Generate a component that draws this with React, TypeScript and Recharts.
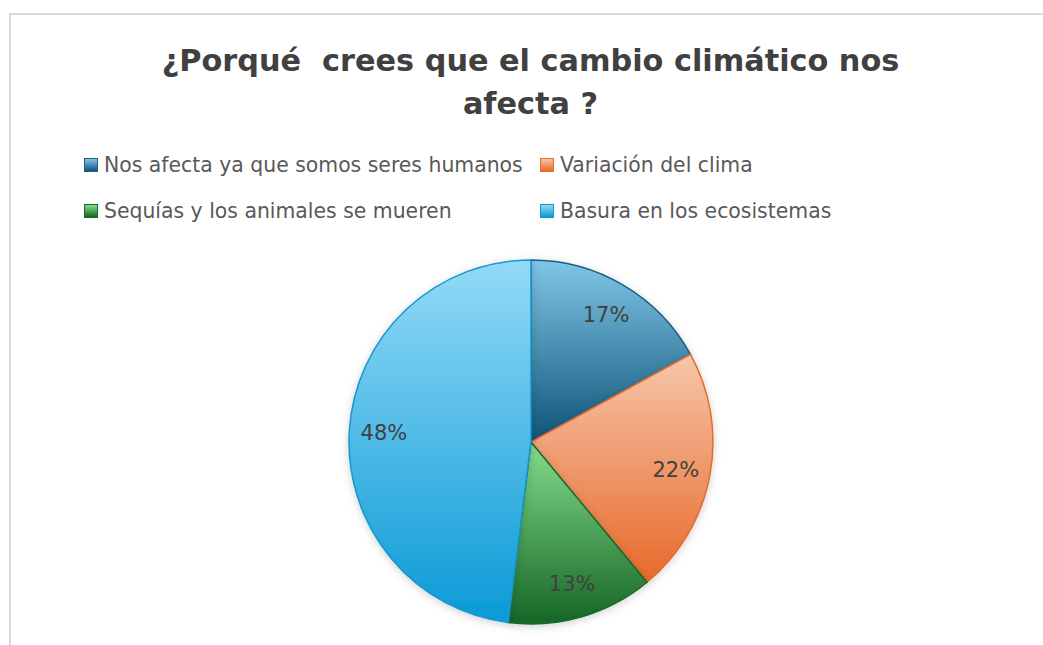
import React from 'react';
import { PieChart, Pie, Cell } from 'recharts';

const categories = [
  'Nos afecta ya que somos seres humanos',
  'Variación del clima',
  'Sequías y los animales se mueren',
  'Basura en los ecosistemas',
];
const values = [17, 22, 13, 48];
const percentLabels = ['17%', '22%', '13%', '48%'];
const titleLines = ['¿Porqué  crees que el cambio climático nos', 'afecta ?'];

const gradTop = ['#7fc6e6', '#f6c6aa', '#84dd8c', '#93daf6'];
const gradBottom = ['#0f5478', '#e8692a', '#156525', '#0a9ad6'];
const strokes = ['#1a5f86', '#e46c2c', '#17692a', '#1596cf'];

const data = categories.map((name, i) => ({ name, value: values[i], label: percentLabels[i] }));

const FONT = "'DejaVu Sans', 'Liberation Sans', Arial, sans-serif";

const RADIAN = Math.PI / 180;
const renderLabel = (props: any) => {
  const { cx, cy, midAngle, outerRadius, index } = props;
  const r = outerRadius * 0.81;
  const x = cx + r * Math.cos(-midAngle * RADIAN);
  const y = cy + r * Math.sin(-midAngle * RADIAN);
  return (
    <text
      x={x}
      y={y}
      textAnchor="middle"
      dominantBaseline="central"
      fill="#404040"
      fontSize={21}
      fontFamily={FONT}
    >
      {data[index].label}
    </text>
  );
};

export default function App() {
  return (
    <div style={{ position: 'absolute', left: 0, top: 0, width: 1043, height: 645, background: '#fff', overflow: 'hidden', fontFamily: FONT }}>
      <div style={{ position: 'absolute', left: 9, top: 13, width: 1100, height: 700, border: '2px solid #d9d9d9', boxSizing: 'border-box' }} />
      <div style={{ position: 'absolute', left: 0, top: 39, width: 1061, textAlign: 'center', fontWeight: 'bold', fontSize: 30.3, lineHeight: '43px', color: '#404040' }}>
        <div style={{ whiteSpace: 'pre' }}>{titleLines[0]}</div>
        <div style={{ whiteSpace: 'pre' }}>{titleLines[1]}</div>
      </div>
      {categories.map((c, i) => {
        const col = i % 2;
        const row = Math.floor(i / 2);
        const left = col === 0 ? 84 : 540;
        const top = row === 0 ? 165 : 211;
        return (
          <div key={c} style={{ position: 'absolute', left, top: top - 12, height: 24, display: 'flex', alignItems: 'center', whiteSpace: 'nowrap' }}>
            <div style={{ width: 12, height: 12, border: `1px solid ${strokes[i]}`, background: `linear-gradient(${gradTop[i]}, ${gradBottom[i]})`, marginRight: 6 }} />
            <span style={{ fontSize: 20.4, color: '#595959' }}>{c}</span>
          </div>
        );
      })}
      <div style={{ position: 'absolute', left: 0, top: 0 }}>
        <PieChart width={1043} height={645} margin={{ top: 0, right: 0, bottom: 0, left: 0 }}>
          <defs>
            {gradTop.map((t, i) => (
              <linearGradient key={i} id={`g${i}`} x1="0" y1="0" x2="0" y2="1">
                <stop offset="0%" stopColor={t} />
                <stop offset="100%" stopColor={gradBottom[i]} />
              </linearGradient>
            ))}
            <filter id="shadow" x="-20%" y="-20%" width="140%" height="140%">
              <feDropShadow dx="0" dy="2" stdDeviation="4" floodColor="#000" floodOpacity="0.18" />
            </filter>
          </defs>
          <Pie
            data={data}
            dataKey="value"
            nameKey="name"
            cx={531}
            cy={442}
            outerRadius={182}
            startAngle={90}
            endAngle={-270}
            isAnimationActive={false}
            label={renderLabel}
            labelLine={false}
            style={{ filter: 'url(#shadow)' }}
          >
            {data.map((d, i) => (
              <Cell key={d.name} fill={`url(#g${i})`} stroke={strokes[i]} strokeWidth={1.5} />
            ))}
          </Pie>
        </PieChart>
      </div>
    </div>
  );
}
